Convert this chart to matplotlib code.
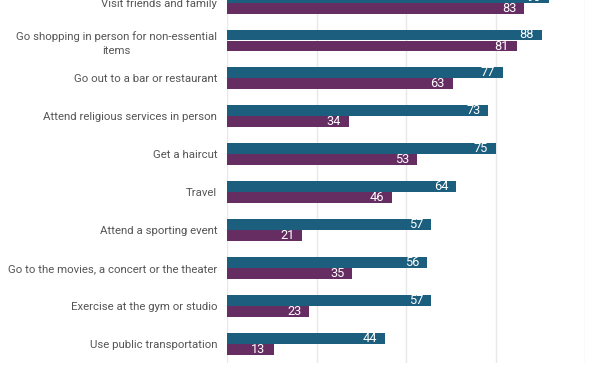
import matplotlib
matplotlib.use("Agg")
import matplotlib.pyplot as plt
import numpy as np

categories = [
    "Visit friends and family",
    "Go shopping in person for non-essential\nitems",
    "Go out to a bar or restaurant",
    "Attend religious services in person",
    "Get a haircut",
    "Travel",
    "Attend a sporting event",
    "Go to the movies, a concert or the theater",
    "Exercise at the gym or studio",
    "Use public transportation",
]
series_a = [90, 88, 77, 73, 75, 64, 57, 56, 57, 44]
series_b = [83, 81, 63, 34, 53, 46, 21, 35, 23, 13]
xticks = [0, 25, 50, 75, 100]
xticklabels = ["0", "25", "50", "75", "100%"]

blue = "#1b5e7e"
purple = "#662d62"
text_col = "#555555"

plt.rcParams['font.family'] = ['Roboto', 'DejaVu Sans']

W, H = 612, 374
fig = plt.figure(figsize=(W / 100, H / 100), dpi=100)
top_px, bot_px = -20, 363
ax = fig.add_axes([227 / W, (H - bot_px) / H, 358 / W, (bot_px - top_px) / H])

spacing = 37.9
c0 = 2.6
ax.set_ylim((bot_px - c0) / spacing, (top_px - c0) / spacing)
ax.set_xlim(0, 100)

y = np.arange(len(categories))
bh = 11 / spacing
ax.barh(y - bh / 2, series_a, height=bh, color=blue, zorder=3)
ax.barh(y + bh / 2, series_b, height=bh, color=purple, zorder=3)

for yi, a, b in zip(y, series_a, series_b):
    ax.text(a - 2.2, yi - bh / 2, str(a), ha='right', va='center',
            color='white', fontsize=9.2, zorder=4)
    ax.text(b - 2.2, yi + bh / 2, str(b), ha='right', va='center',
            color='white', fontsize=9.2, zorder=4)

ax.set_yticks(y)
ax.set_yticklabels(categories, fontsize=8.2, color=text_col,
                   multialignment='center', linespacing=1.45)
ax.tick_params(axis='y', length=0, pad=7)
ax.set_xticks(xticks)
ax.set_xticklabels(xticklabels, fontsize=8.2, color=text_col)
ax.tick_params(axis='x', length=0, pad=9)
ax.grid(axis='x', color='#e8e8e8', linewidth=1, zorder=0)
for s in ax.spines.values():
    s.set_visible(False)

fig.savefig("out.png", dpi=100)
